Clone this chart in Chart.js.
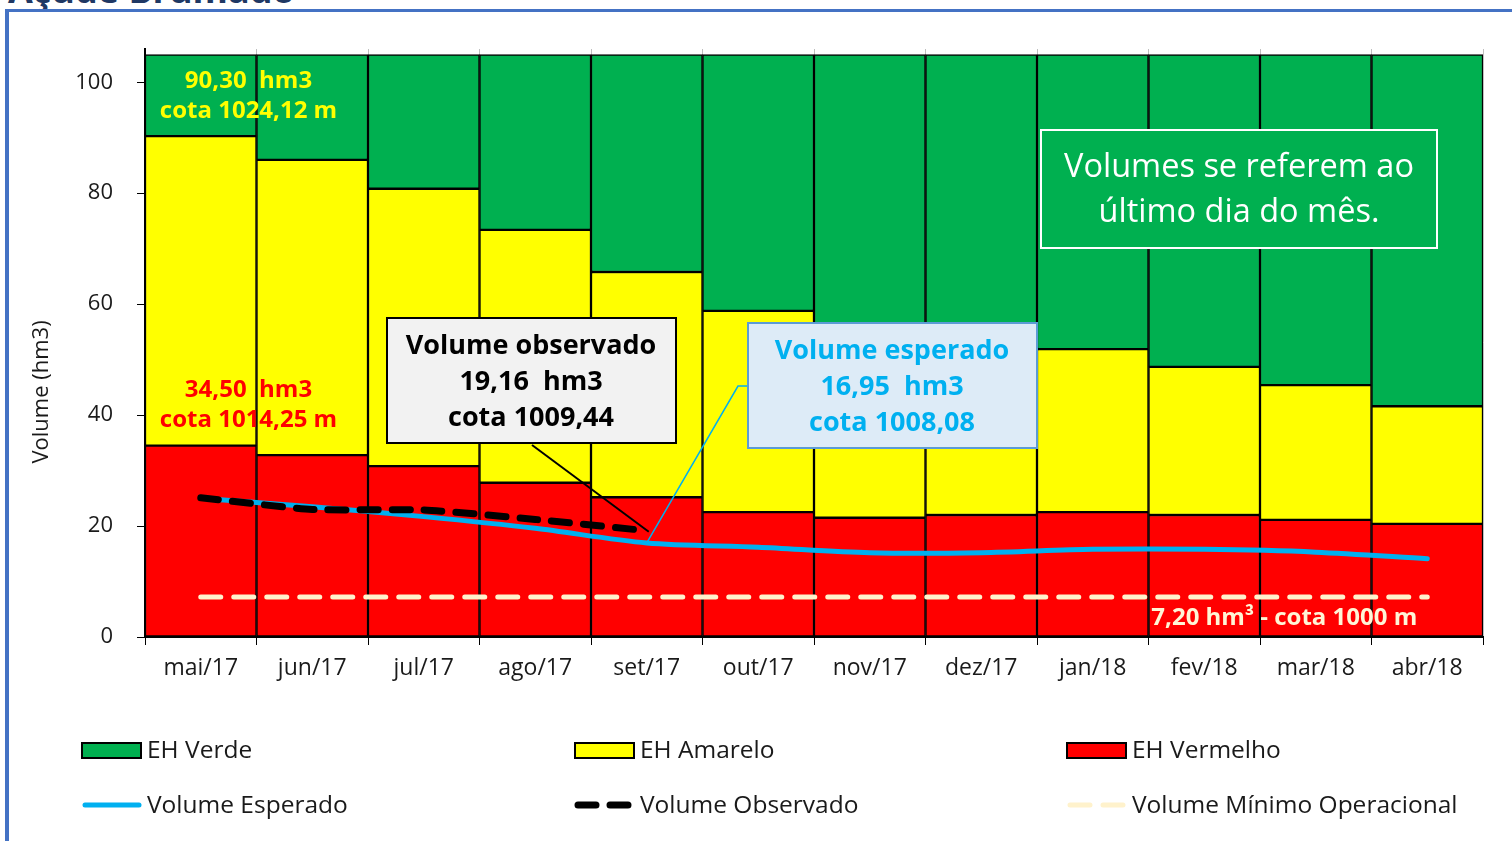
<!DOCTYPE html>
<html>
<head>
<meta charset="utf-8">
<script src="https://cdn.jsdelivr.net/npm/chart.js@4"></script>
<style>
  body { margin: 0; background: #fff; overflow: hidden; }
  #titulo { position: absolute; left: 8px; top: -30px; font: bold 36px "Open Sans"; color: #1F3864; line-height: 40px; white-space: nowrap; }
  #moldura { position: absolute; left: 5px; top: 9px; width: 1600px; height: 900px; border-left: 4px solid #4472C4; border-top: 3px solid #4472C4; }
  #grafico { position: absolute; left: 0; top: 0; }
</style>
</head>
<body>
<div id="titulo">Açude Brumado</div>
<div id="moldura"></div>
<canvas id="grafico" width="1512" height="841"></canvas>
<script>
// dados (hm3, último dia do mês)
var meses = ['mai/17', 'jun/17', 'jul/17', 'ago/17', 'set/17', 'out/17', 'nov/17', 'dez/17', 'jan/18', 'fev/18', 'mar/18', 'abr/18'];
var limiteVermelho = [34.5, 32.8, 30.8, 27.8, 25.2, 22.5, 21.5, 22.0, 22.5, 22.0, 21.1, 20.4];
var limiteAmarelo = [90.3, 86.0, 80.8, 73.4, 65.8, 58.8, 55.5, 54.0, 51.9, 48.7, 45.4, 41.6];
var volumeTotal = 105;
var volumeEsperado = [25.0, 23.5, 21.7, 19.6, 16.95, 16.2, 15.2, 15.2, 15.8, 15.8, 15.3, 14.1];
var volumeObservado = [25.1, 23.0, 22.9, 21.2, 19.16, null, null, null, null, null, null, null];
var volumeMinimo = [7.2, 7.2, 7.2, 7.2, 7.2, 7.2, 7.2, 7.2, 7.2, 7.2, 7.2, 7.2];
var yTicks = [0, 20, 40, 60, 80, 100];

var verde = '#00B050', amarelo = '#FFFF00', vermelho = '#FF0000';
var azul = '#00B0F0', creme = '#FFF2CC';

// faixas empilhadas
var faixaVermelha = limiteVermelho.slice();
var faixaAmarela = limiteAmarelo.map(function (v, i) { return v - limiteVermelho[i]; });
var faixaVerde = limiteAmarelo.map(function (v) { return volumeTotal - v; });

function texto(ctx, t, x, y, font, cor, align) {
  ctx.font = font;
  ctx.fillStyle = cor;
  ctx.textAlign = align || 'center';
  ctx.textBaseline = 'middle';
  ctx.fillText(t, x, y);
}

var anotacoes = {
  id: 'anotacoes',
  afterDatasetsDraw: function (chart) {
    var ctx = chart.ctx, x = chart.scales.x, y = chart.scales.y;
    ctx.save();

    // rótulos de mai/17
    var xc = (x.getPixelForValue(0) + x.getPixelForValue(1)) / 2 - 8;
    var ya = y.getPixelForValue(limiteAmarelo[0]);
    texto(ctx, '90,30  hm3', xc, ya - 55, 'bold 24px "Open Sans"', amarelo);
    texto(ctx, 'cota 1024,12 m', xc, ya - 25, 'bold 24px "Open Sans"', amarelo);
    var yv = y.getPixelForValue(limiteVermelho[0]);
    texto(ctx, '34,50  hm3', xc, yv - 55, 'bold 24px "Open Sans"', vermelho);
    texto(ctx, 'cota 1014,25 m', xc, yv - 25, 'bold 24px "Open Sans"', vermelho);

    // volume mínimo
    texto(ctx, '7,20 hm³ - cota 1000 m', x.getPixelForValue(11) - 10, y.getPixelForValue(7.2) + 21,
      'bold 24px "Open Sans"', '#FFF5D6', 'right');

    // linhas de chamada
    var xs = x.getPixelForValue(4);
    ctx.strokeStyle = '#000';
    ctx.lineWidth = 2;
    ctx.beginPath();
    ctx.moveTo(532, 445);
    ctx.lineTo(xs + 2, y.getPixelForValue(19.16) + 1);
    ctx.stroke();
    ctx.strokeStyle = azul;
    ctx.lineWidth = 1.5;
    ctx.beginPath();
    ctx.moveTo(749, 386);
    ctx.lineTo(738, 386);
    ctx.lineTo(xs, y.getPixelForValue(16.95));
    ctx.stroke();

    // caixa volume observado
    ctx.fillStyle = '#F2F2F2';
    ctx.fillRect(387, 318, 289, 125);
    ctx.strokeStyle = '#000';
    ctx.lineWidth = 2;
    ctx.strokeRect(387, 318, 289, 125);
    texto(ctx, 'Volume observado', 531, 346, 'bold 27px "Open Sans"', '#000');
    texto(ctx, '19,16  hm3', 531, 382, 'bold 27px "Open Sans"', '#000');
    texto(ctx, 'cota 1009,44', 531, 418, 'bold 27px "Open Sans"', '#000');

    // caixa volume esperado
    ctx.fillStyle = '#DDEBF7';
    ctx.fillRect(748, 323, 289, 125);
    ctx.strokeStyle = '#5B9BD5';
    ctx.lineWidth = 2;
    ctx.strokeRect(748, 323, 289, 125);
    texto(ctx, 'Volume esperado', 892, 351, 'bold 27px "Open Sans"', azul);
    texto(ctx, '16,95  hm3', 892, 387, 'bold 27px "Open Sans"', azul);
    texto(ctx, 'cota 1008,08', 892, 423, 'bold 27px "Open Sans"', azul);

    // nota
    ctx.fillStyle = verde;
    ctx.fillRect(1041, 130, 396, 118);
    ctx.strokeStyle = '#fff';
    ctx.lineWidth = 2;
    ctx.strokeRect(1041, 130, 396, 118);
    texto(ctx, 'Volumes se referem ao', 1239, 168, '32.5px "Open Sans"', '#fff');
    texto(ctx, 'último dia do mês.', 1239, 213, '32.5px "Open Sans"', '#fff');

    ctx.restore();
  },
  afterDraw: function (chart) {
    var ctx = chart.ctx;
    ctx.save();
    // título do eixo y
    ctx.translate(42, 392);
    ctx.rotate(-Math.PI / 2);
    texto(ctx, 'Volume (hm3)', 0, 0, '22px "Open Sans"', '#1a1a1a');
    ctx.restore();

    // legenda em 3 colunas
    var ds = chart.data.datasets;
    var cols = [82, 575, 1067];
    var itens = [
      { d: ds[2], tipo: 'caixa', col: 0, lin: 750 },
      { d: ds[1], tipo: 'caixa', col: 1, lin: 750 },
      { d: ds[0], tipo: 'caixa', col: 2, lin: 750 },
      { d: ds[3], tipo: 'linha', col: 0, lin: 805 },
      { d: ds[4], tipo: 'linha', col: 1, lin: 805 },
      { d: ds[5], tipo: 'linha', col: 2, lin: 805 }
    ];
    ctx.save();
    itens.forEach(function (it) {
      var x0 = cols[it.col];
      if (it.tipo === 'caixa') {
        ctx.fillStyle = it.d.backgroundColor;
        ctx.fillRect(x0, it.lin - 7, 59, 15);
        ctx.strokeStyle = '#000';
        ctx.lineWidth = 2;
        ctx.strokeRect(x0, it.lin - 7, 59, 15);
      } else {
        ctx.strokeStyle = it.d.borderColor;
        ctx.lineWidth = it.d.borderWidth;
        ctx.lineCap = 'round';
        ctx.setLineDash(it.d.borderDash || []);
        ctx.beginPath();
        ctx.moveTo(x0 + 3, it.lin);
        ctx.lineTo(x0 + 57, it.lin);
        ctx.stroke();
        ctx.setLineDash([]);
      }
      texto(ctx, it.d.label, x0 + 65, it.lin + 1, '24.5px "Open Sans"', '#1a1a1a', 'left');
    });
    ctx.restore();
  }
};

var ctx = document.getElementById('grafico').getContext('2d');
Chart.defaults.font.family = '"Open Sans"';

var chart = new Chart(ctx, {
  type: 'bar',
  data: {
    labels: meses,
    datasets: [
      { label: 'EH Vermelho', data: faixaVermelha, backgroundColor: vermelho, stack: 'eh', order: 3 },
      { label: 'EH Amarelo', data: faixaAmarela, backgroundColor: amarelo, stack: 'eh', order: 3 },
      { label: 'EH Verde', data: faixaVerde, backgroundColor: verde, stack: 'eh', order: 3 },
      { type: 'line', label: 'Volume Esperado', data: volumeEsperado, borderColor: azul, borderWidth: 5,
        tension: 0.3, pointRadius: 0, stack: 'esp', order: 2, borderCapStyle: 'round' },
      { type: 'line', label: 'Volume Observado', data: volumeObservado, borderColor: '#000', borderWidth: 7,
        borderDash: [18, 14], borderCapStyle: 'round', tension: 0.2, pointRadius: 0, stack: 'obs', order: 1 },
      { type: 'line', label: 'Volume Mínimo Operacional', data: volumeMinimo, borderColor: creme, borderWidth: 5,
        borderDash: [20, 13], borderCapStyle: 'round', pointRadius: 0, stack: 'min', order: 0 }
    ]
  },
  options: {
    responsive: false,
    animation: false,
    layout: { padding: { left: 20, right: 29, top: 49, bottom: 154 } },
    datasets: {
      bar: { barPercentage: 1, categoryPercentage: 1, borderColor: '#000', borderWidth: 1.5, borderSkipped: false }
    },
    plugins: { legend: { display: false }, tooltip: { enabled: false } },
    scales: {
      x: {
        stacked: true,
        grid: { color: '#BFBFBF', tickColor: '#000', tickLength: 8, offset: true },
        border: { color: '#000', width: 2 },
        ticks: { color: '#1a1a1a', font: { size: 23 }, padding: 10, maxRotation: 0 },
        afterFit: function (s) { s.height = 50; }
      },
      y: {
        stacked: true,
        min: 0,
        max: 106,
        afterBuildTicks: function (s) { s.ticks = yTicks.map(function (v) { return { value: v }; }); },
        grid: { drawOnChartArea: false, tickColor: '#000', tickLength: 8 },
        border: { color: '#000', width: 2 },
        ticks: { color: '#1a1a1a', font: { size: 22 }, padding: 24 },
        afterFit: function (s) { s.width = 125; }
      }
    }
  },
  plugins: [anotacoes]
});
</script>
</body>
</html>
